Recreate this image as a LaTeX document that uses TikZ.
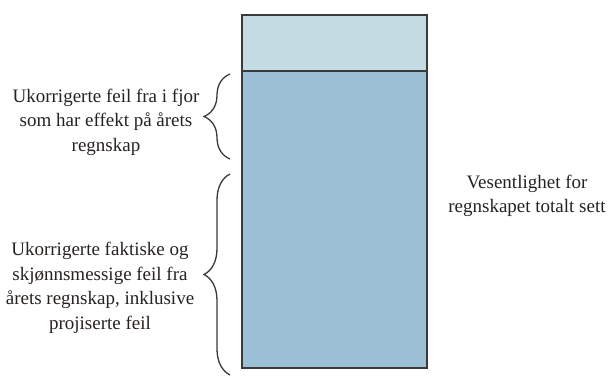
\documentclass[tikz,border=0pt]{standalone}
\usepackage{fontspec}
\setmainfont{Liberation Serif}
\usetikzlibrary{decorations.pathreplacing}
\definecolor{lightbox}{HTML}{C5DBE3}
\definecolor{mainbox}{HTML}{9BBFD5}
\definecolor{edge}{HTML}{3A3A3A}
\definecolor{txt}{HTML}{262220}
\tikzset{
  box/.style={draw=edge, line width=1.8pt, minimum width=185pt, inner sep=0pt, outer sep=0pt},
  lbl/.style={align=center, text=txt, font=\fontsize{19}{24.5}\selectfont, inner sep=0pt},
  brc/.style={draw=edge, line width=1.3pt, decorate, decoration={brace, amplitude=26pt, aspect=0.5}}
}
\begin{document}
\begin{tikzpicture}[x=1pt,y=1pt]
\useasboundingbox (0,0) rectangle (611,376);
\node[box, fill=lightbox, minimum height=56pt] (top) at (334.5,333) {};
\node[box, fill=mainbox, minimum height=297pt] (main) at (334.5,156.5) {};
\coordinate (b1s) at (230,217);
\coordinate (b1e) at (230,302);
\coordinate (b2s) at (230,1);
\coordinate (b2e) at (230,202);
\draw[brc] (b1s) -- (b1e);
\draw[brc] (b2s) -- (b2e);
\node[lbl] (t1) at (106,254) {Ukorrigerte feil fra i fjor\\som har effekt på årets\\regnskap};
\node[lbl] (t2) at (100,88) {Ukorrigerte faktiske og\\skjønnsmessige feil fra\\årets regnskap, inklusive\\projiserte feil};
\node[lbl] (t3) at (527,180) {Vesentlighet for\\regnskapet totalt sett};
\end{tikzpicture}
\end{document}
